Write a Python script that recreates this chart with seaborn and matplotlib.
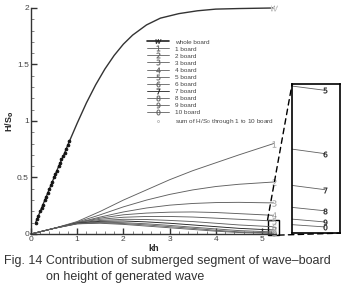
import matplotlib
matplotlib.use("Agg")
import matplotlib.pyplot as plt
import seaborn as sns
from matplotlib.lines import Line2D
from matplotlib.patches import Rectangle, ConnectionPatch

# whole board response
kh_whole = [0.1, 0.2, 0.3, 0.4, 0.5, 0.6, 0.7, 0.8, 1.0, 1.2, 1.4, 1.6, 1.8, 2.0,
            2.2, 2.5, 2.8, 3.2, 3.6, 4.0, 4.5, 5.25]
h_whole = [0.10, 0.20, 0.30, 0.40, 0.50, 0.60, 0.69, 0.79, 0.98, 1.16, 1.32, 1.46, 1.58, 1.68,
           1.76, 1.85, 1.91, 1.95, 1.975, 1.99, 1.995, 2.0]

# sum of segments (only low kh shown)
kh_sum = [0.1, 0.13, 0.16, 0.2, 0.23, 0.26, 0.3, 0.33, 0.36, 0.4, 0.43, 0.46, 0.5, 0.53,
          0.56, 0.6, 0.63, 0.66, 0.7, 0.73, 0.76, 0.8, 0.83]
h_sum = [0.10, 0.13, 0.16, 0.20, 0.23, 0.26, 0.30, 0.33, 0.36, 0.40, 0.43, 0.46, 0.50, 0.53,
         0.56, 0.60, 0.63, 0.66, 0.69, 0.72, 0.75, 0.79, 0.82]

# segment contributions
kh_seg = [0, 0.5, 1.0, 1.5, 2.0, 2.5, 3.0, 3.5, 4.0, 4.5, 5.25]
board1 = [0, 0.05, 0.11, 0.20, 0.30, 0.39, 0.48, 0.56, 0.63, 0.70, 0.80]
board2 = [0, 0.05, 0.105, 0.17, 0.24, 0.30, 0.35, 0.39, 0.42, 0.44, 0.46]
board3 = [0, 0.05, 0.10, 0.15, 0.195, 0.23, 0.255, 0.27, 0.278, 0.28, 0.275]
board4 = [0, 0.05, 0.10, 0.14, 0.17, 0.185, 0.193, 0.195, 0.19, 0.18, 0.165]
board5 = [0, 0.05, 0.10, 0.13, 0.148, 0.155, 0.155, 0.15, 0.14, 0.13, 0.115]
board6 = [0, 0.05, 0.097, 0.12, 0.13, 0.128, 0.12, 0.11, 0.095, 0.08, 0.064]
board7 = [0, 0.05, 0.095, 0.112, 0.115, 0.107, 0.095, 0.08, 0.065, 0.05, 0.035]
board8 = [0, 0.05, 0.093, 0.105, 0.10, 0.09, 0.076, 0.06, 0.045, 0.03, 0.018]
board9 = [0, 0.05, 0.09, 0.10, 0.092, 0.08, 0.065, 0.05, 0.033, 0.019, 0.009]
board10 = [0, 0.05, 0.09, 0.095, 0.085, 0.07, 0.055, 0.04, 0.025, 0.013, 0.005]
boards = [board1, board2, board3, board4, board5, board6, board7, board8, board9, board10]
board_marks = ["1", "2", "3", "4", "5", "6", "7", "8", "9", "0"]

sns.set_style("ticks")
plt.rcParams["font.family"] = ["Liberation Sans", "DejaVu Sans"]

fig = plt.figure(figsize=(3.44, 2.85), dpi=100)
ax = fig.add_axes([0.090, 0.179, 0.712, 0.793])

seg_color = "#606060"
for vals, m in zip(boards, board_marks):
    sns.lineplot(x=kh_seg, y=vals, color=seg_color if m != "7" else "#222222", lw=0.65, ax=ax,
                 marker=f"${m}$", markevery=[-1], markersize=4.5, markeredgewidth=0.2,
                 clip_on=False)
sns.lineplot(x=kh_whole, y=h_whole, color="#333333", lw=1.0, ax=ax, marker="$W$",
             markevery=[-1], markersize=5, markeredgewidth=0.3, clip_on=False)
ax.plot(kh_sum, h_sum, ls="none", marker="o", ms=2.0, mfc="#111111", mec="#111111", mew=0.6)

ax.set_xlim(0, 5.3)
ax.set_ylim(0, 2)
ax.set_xticks([0, 1, 2, 3, 4, 5])
ax.set_yticks([0, 0.5, 1, 1.5, 2])
ax.set_yticklabels(["0", "0.5", "1", "1.5", "2"])
ax.set_xticks([i * 0.2 for i in range(27)], minor=True)
ax.set_yticks([i * 0.1 for i in range(21)], minor=True)
ax.tick_params(which="major", direction="in", length=4, width=1, labelsize=6, colors="#333333",
               labelcolor="#444444", pad=1.5)
ax.tick_params(which="minor", direction="in", length=2, width=0.5, colors="#555555")
sns.despine(ax=ax)
for s in ["left", "bottom"]:
    ax.spines[s].set_linewidth(1.0)
    ax.spines[s].set_color("#333333")
ax.set_xlabel("kh", fontsize=6.5, fontweight="bold", labelpad=1)
ax.set_ylabel("H/S$_\\mathbf{0}$", fontsize=6.5, fontweight="bold", labelpad=1)

# legend
handles = [Line2D([], [], color="#222222", lw=1.2, marker="$W$", ms=4, mew=0.2)]
labels = ["whole board"]
for i, m in enumerate(board_marks):
    handles.append(Line2D([], [], color=seg_color if m != "7" else "#222222", lw=0.6,
                          marker=f"${m}$", ms=4, mew=0.2))
    labels.append(f"{i + 1} board")
handles.append(Line2D([], [], ls="none", marker="o", ms=1.5, mfc="none", mec="#999999", mew=0.4))
labels.append("sum of H/S$_0$ through 1 to 10 board")
fig.legend(handles, labels, loc="upper left", bbox_to_anchor=(0.42, 0.872), frameon=False,
           fontsize=4.6, labelspacing=0.25, handlelength=3.4, handletextpad=1.0,
           borderaxespad=0, labelcolor="#444444")

# zoom box and inset
x0, x1, y0, y1 = 5.12, 5.36, -0.01, 0.125
ax.add_patch(Rectangle((x0, y0), x1 - x0, y1 - y0, fill=False, ec="black", lw=1.0, clip_on=False))
axin = fig.add_axes([0.849, 0.182, 0.140, 0.523])
for vals, m in zip(boards[4:], board_marks[4:]):
    axin.plot(kh_seg, vals, color=seg_color, lw=0.6, marker=f"${m}$", markevery=[-1],
              ms=4, mew=0.2, mfc="#222222", mec="#222222")
axin.set_xlim(5.08, 5.33)
axin.set_ylim(0, 0.12)
axin.set_xticks([])
axin.set_yticks([])
for s in axin.spines.values():
    s.set_linewidth(1.2)
    s.set_color("black")
for pa, pb in [((x0, y1), (0, 1)), ((x1, y0), (1, 0))]:
    con = ConnectionPatch(xyA=pa, coordsA=ax.transData, xyB=pb, coordsB=axin.transAxes,
                          ls=(0, (4, 3)), lw=1.0, color="black")
    fig.add_artist(con)

fig.text(0.012, 0.074, "Fig. 14 Contribution of submerged segment of wave\u2013board",
         fontsize=9, color="#333333")
fig.text(0.135, 0.016, "on height of generated wave", fontsize=9, color="#333333")

fig.savefig("out.png", dpi=100)
